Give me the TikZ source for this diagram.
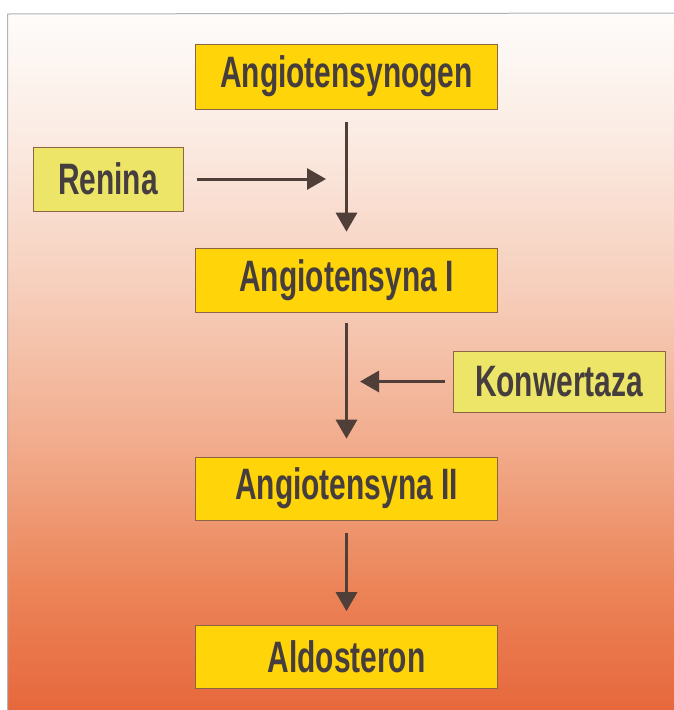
\documentclass[tikz,border=0pt]{standalone}
\usepackage{fontspec}
\setmainfont[FakeStretch=0.68]{Liberation Sans}
\usetikzlibrary{arrows.meta}
\definecolor{boxyellow}{RGB}{255,212,8}
\definecolor{sideyellow}{RGB}{236,229,104}
\definecolor{boxline}{RGB}{140,100,70}
\definecolor{txt}{RGB}{70,62,62}
\definecolor{arr}{RGB}{80,62,56}
\definecolor{bgA}{RGB}{254,252,250}
\definecolor{bgB}{RGB}{251,236,228}
\definecolor{bgC}{RGB}{246,204,184}
\definecolor{bgD}{RGB}{241,170,138}
\definecolor{bgE}{RGB}{236,134,90}
\definecolor{bgF}{RGB}{230,104,60}
\definecolor{frame}{RGB}{176,178,186}
\tikzset{
  mainbox/.style={draw=boxline, line width=0.6pt, fill=boxyellow, text=txt,
    font=\fontsize{44}{44}\selectfont\bfseries, minimum width=302pt, inner sep=0pt},
  sidebox/.style={draw=boxline, line width=0.5pt, fill=sideyellow, text=txt,
    font=\fontsize{44}{44}\selectfont\bfseries, inner sep=0pt},
  flow/.style={draw=arr, line width=3pt, -{Triangle[width=21pt,length=19pt]}}
}
\begin{document}
\begin{tikzpicture}[x=1pt,y=-1pt]
\useasboundingbox (0,0) rectangle (674,710);
\fill[white] (0,0) rectangle (674,710);
% background gradient
\shade[top color=bgA, bottom color=bgB] (8,14) rectangle (674,131);
\shade[top color=bgB, bottom color=bgC] (8,130) rectangle (674,301);
\shade[top color=bgC, bottom color=bgD] (8,300) rectangle (674,451);
\shade[top color=bgD, bottom color=bgE] (8,450) rectangle (674,581);
\shade[top color=bgE, bottom color=bgF] (8,580) rectangle (674,710);
% frame
\draw[frame, line width=1pt] (7.5,710) -- (7.5,14) -- (674,13);
% nodes
\node[mainbox, minimum height=65pt] (ang0) at (346.5,76.5) {Angiotensynogen};
\node[sidebox, minimum width=150pt, minimum height=64pt] (ren) at (108,179) {Renina};
\node[mainbox, minimum height=64pt] (ang1) at (346.5,280) {Angiotensyna I};
\node[sidebox, minimum width=212pt, minimum height=61pt] (konw) at (559,381.5) {Konwertaza};
\node[mainbox, minimum height=63pt] (ang2) at (346.5,488.5) {Angiotensyna II};
\node[mainbox, minimum height=63pt] (aldo) at (346.5,657) {Aldosteron};
\coordinate (renend) at (326,179);
\coordinate (konwend) at (360,381.5);
% connectors
\draw[flow, shorten <=13pt, shorten >=16pt] (ang0.south) -- (ang1.north);
\draw[flow, shorten <=11pt, shorten >=18pt] (ang1.south) -- (ang2.north);
\draw[flow, shorten <=13pt, shorten >=14pt] (ang2.south) -- (aldo.north);
\draw[flow, shorten <=14pt] (ren.east) -- (renend);
\draw[flow, shorten <=8pt] (konw.west) -- (konwend);
\end{tikzpicture}
\end{document}
